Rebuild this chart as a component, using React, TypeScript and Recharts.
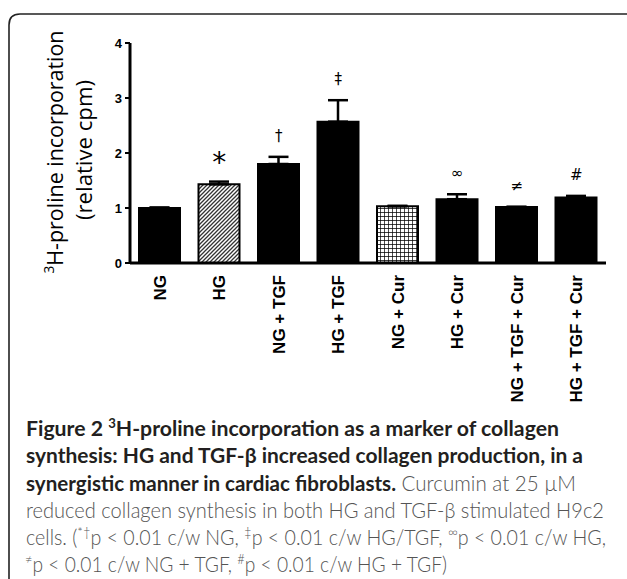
import React from "react";
import { ComposedChart, Bar, Cell, ErrorBar, Scatter, XAxis, YAxis } from "recharts";

// 3H-proline incorporation (relative cpm), mean + SEM per group
const categories = [
  "NG",
  "HG",
  "NG + TGF",
  "HG + TGF",
  "NG + Cur",
  "HG + Cur",
  "NG + TGF + Cur",
  "HG + TGF + Cur",
];
const means = [1.0, 1.43, 1.8, 2.57, 1.03, 1.16, 1.02, 1.19];
const sems = [0.01, 0.05, 0.13, 0.39, 0.01, 0.09, 0, 0.03];
const marks = ["", "*", "†", "‡", "", "∞", "≠", "#"];
const yTicks = [0, 1, 2, 3, 4];

const data = categories.map((name, i) => ({
  name,
  mean: means[i],
  err: [0, sems[i]],
  top: means[i] + sems[i],
  mark: marks[i],
}));

const patternFill: Record<string, string> = {
  HG: "url(#hg-hatch)",
  "NG + Cur": "url(#cur-grid)",
};

const axisFont = "'Liberation Sans', Arial, sans-serif";
const textFont = "Lato, 'Open Sans', sans-serif";

function XTick({ x, y, payload }: any) {
  return (
    <text
      x={x}
      y={y}
      transform={`rotate(-90, ${x}, ${y})`}
      textAnchor="end"
      dy="0.36em"
      fontFamily={axisFont}
      fontWeight="bold"
      fontSize={17}
      fill="#000"
    >
      {payload.value}
    </text>
  );
}

function MarkShape({ cx, cy, payload }: any) {
  if (!payload || !payload.mark) return <g />;
  const star = payload.mark === "*";
  return (
    <text
      x={cx}
      y={cy - (star ? 10 : 16)}
      textAnchor="middle"
      fontFamily="'DejaVu Sans', 'Liberation Sans', sans-serif"
      fontSize={star ? 28 : 15}
      fill="#000"
    >
      {payload.mark}
    </text>
  );
}

export default function App() {
  return (
    <div
      style={{
        position: "absolute",
        left: 0,
        top: 0,
        width: 627,
        height: 579,
        background: "#fff",
        overflow: "hidden",
      }}
    >
      <svg width={0} height={0} style={{ position: "absolute" }}>
        <defs>
          <pattern id="hg-hatch" width={4} height={4} patternUnits="userSpaceOnUse">
            <rect width={4} height={4} fill="#fff" />
            <path d="M-1,1 L1,-1 M0,4 L4,0 M3,5 L5,3" stroke="#333" strokeWidth={1.3} />
          </pattern>
          <pattern id="cur-grid" width={4} height={4} patternUnits="userSpaceOnUse">
            <rect width={4} height={4} fill="#fff" />
            <path d="M0,0 H4 M0,0 V4" stroke="#000" strokeWidth={1.4} />
          </pattern>
        </defs>
      </svg>

      <div style={{ position: "absolute", left: 0, top: 0 }}>
        <ComposedChart
          width={627}
          height={420}
          data={data}
          margin={{ top: 43, right: 21, bottom: 0, left: 0 }}
        >
          <XAxis
            dataKey="name"
            type="category"
            height={157}
            tickLine={false}
            tickSize={0}
            tickMargin={12}
            axisLine={{ stroke: "#000", strokeWidth: 3 }}
            tick={<XTick />}
            interval={0}
          />
          <YAxis
            width={130}
            domain={[0, 4]}
            ticks={yTicks}
            tickSize={5}
            tickMargin={3}
            axisLine={{ stroke: "#000", strokeWidth: 3 }}
            tickLine={{ stroke: "#000", strokeWidth: 2 }}
            tick={{ fontSize: 13, fontWeight: "bold", fill: "#000", fontFamily: axisFont }}
          />
          <Bar dataKey="mean" barSize={41} stroke="#000" strokeWidth={2} isAnimationActive={false}>
            {data.map((d) => (
              <Cell key={d.name} fill={patternFill[d.name] ?? "#000"} />
            ))}
            <ErrorBar
              dataKey="err"
              direction="y"
              width={10}
              stroke="#000"
              strokeWidth={2.5}
              isAnimationActive={false}
            />
          </Bar>
          <Scatter dataKey="top" shape={<MarkShape />} isAnimationActive={false} />
        </ComposedChart>
      </div>

      <svg
        width={627}
        height={579}
        style={{ position: "absolute", left: 0, top: 0, pointerEvents: "none" }}
      >
        <path d="M9,579 V25 Q9,14 20,14 H627" fill="none" stroke="#222" strokeWidth={1.6} />

        <text
          x={63}
          y={152}
          transform="rotate(-90, 63, 152)"
          textAnchor="middle"
          fontFamily="'Open Sans', sans-serif"
          fontSize={22}
          fill="#000"
          textLength={243}
          lengthAdjust="spacingAndGlyphs"
        >
          <tspan fontSize={14} dy={-9}>3</tspan>
          <tspan dy={9}>H-proline incorporation</tspan>
        </text>
        <text
          x={92}
          y={150}
          transform="rotate(-90, 92, 150)"
          textAnchor="middle"
          fontFamily="'Open Sans', sans-serif"
          fontSize={22}
          fill="#000"
          textLength={140}
          lengthAdjust="spacingAndGlyphs"
        >
          (relative cpm)
        </text>

        <g fontFamily={textFont} fontSize={21}>
          <text x={26} y={436} textLength={533} lengthAdjust="spacingAndGlyphs" fontWeight={700} fill="#231f20">
            Figure 2 <tspan fontSize={13} dy={-8}>3</tspan>
            <tspan dy={8}>H-proline incorporation as a marker of collagen</tspan>
          </text>
          <text x={26} y={463} textLength={557} lengthAdjust="spacingAndGlyphs" fontWeight={700} fill="#231f20">
            synthesis: HG and TGF-β increased collagen production, in a
          </text>
          <text x={26} y={490.5} textLength={550} lengthAdjust="spacingAndGlyphs" fontWeight={300} fill="#555">
            <tspan fontWeight={700} fill="#231f20">synergistic manner in cardiac fibroblasts.</tspan> Curcumin at 25 µM
          </text>
          <text x={26} y={518} textLength={578} lengthAdjust="spacingAndGlyphs" fontWeight={300} fill="#555">
            reduced collagen synthesis in both HG and TGF-β stimulated H9c2
          </text>
          <text x={26} y={545} textLength={580} lengthAdjust="spacingAndGlyphs" fontWeight={300} fill="#555">
            cells. (<tspan fontSize={14} dy={-8}>*†</tspan>
            <tspan dy={8}>p &lt; 0.01 c/w NG, </tspan>
            <tspan fontSize={14} dy={-8}>‡</tspan>
            <tspan dy={8}>p &lt; 0.01 c/w HG/TGF, </tspan>
            <tspan fontSize={14} dy={-8}>∞</tspan>
            <tspan dy={8}>p &lt; 0.01 c/w HG,</tspan>
          </text>
          <text x={25} y={572} textLength={422} lengthAdjust="spacingAndGlyphs" fontWeight={300} fill="#555">
            <tspan fontSize={14} dy={-8}>≠</tspan>
            <tspan dy={8}>p &lt; 0.01 c/w NG + TGF, </tspan>
            <tspan fontSize={14} dy={-8}>#</tspan>
            <tspan dy={8}>p &lt; 0.01 c/w HG + TGF)</tspan>
          </text>
        </g>
      </svg>
    </div>
  );
}
